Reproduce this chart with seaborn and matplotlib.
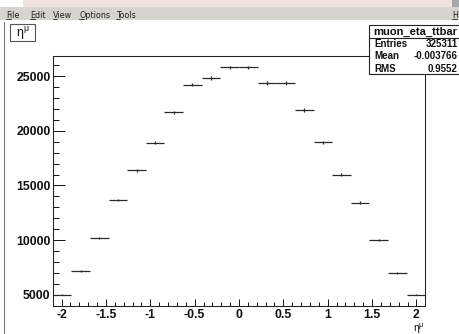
import numpy as np
import pandas as pd
import matplotlib
matplotlib.use("Agg")
import matplotlib.pyplot as plt
import seaborn as sns
from matplotlib.patches import Rectangle
from matplotlib.lines import Line2D

# muon eta histogram (ttbar), 20 bins between -2.1 and 2.1
eta_centers = [-1.995, -1.785, -1.575, -1.365, -1.155, -0.945, -0.735, -0.525, -0.315, -0.105,
               0.105, 0.315, 0.525, 0.735, 0.945, 1.155, 1.365, 1.575, 1.785, 1.995]
counts = [5030, 7210, 10180, 13670, 16380, 18920, 21700, 24200, 24800, 25790,
          25790, 24380, 24350, 21900, 18950, 15980, 13440, 10030, 7020, 5030]
bin_half_width = 0.105
x_ticks = [-2, -1.5, -1, -0.5, 0, 0.5, 1, 1.5, 2]
x_tick_labels = ["-2", "-1.5", "-1", "-0.5", "0", "0.5", "1", "1.5", "2"]
y_ticks = [5000, 10000, 15000, 20000, 25000]

stats_name = "muon_eta_ttbar"
stats_rows = [("Entries", "325311"), ("Mean", "-0.003766"), ("RMS", "0.9552")]
menu_items = ["File", "Edit", "View", "Options", "Tools"]
eta_mu = r"η$^{\mathregular{μ}}$"

df = pd.DataFrame({"eta": eta_centers, "n": counts})

sns.set_theme(style="ticks")
plt.rcParams["font.family"] = ["Liberation Sans", "DejaVu Sans"]
plt.rcParams["mathtext.fontset"] = "dejavusans"

W, H = 459, 334
fig = plt.figure(figsize=(W / 100, H / 100), dpi=100)
fig.patch.set_facecolor("white")


def px(x, y):
    return x / W, 1 - y / H


# window chrome
fig.patches.append(Rectangle(px(23, 7), 429 / W, 7 / H, transform=fig.transFigure,
                             facecolor="#efe3dc", edgecolor="none"))
fig.patches.append(Rectangle(px(452, 7), 7 / W, 7 / H, transform=fig.transFigure,
                             facecolor="#a8a8a8", edgecolor="none"))
fig.patches.append(Rectangle(px(0, 20), 1, 13 / H, transform=fig.transFigure,
                             facecolor="#d6d4d0", edgecolor="none"))
fig.lines.append(Line2D([3.5 / W, 3.5 / W], [px(0, 22)[1], 0], transform=fig.transFigure,
                        color="#7a7a7a", lw=0.8))

menu_x = [6, 30, 53, 79, 116]
for name, mx in zip(menu_items, menu_x):
    fig.text(*px(mx, 17.8), name, fontsize=5.8, color="#202020", ha="left", va="baseline",
             family=["DejaVu Sans"])
    fig.lines.append(Line2D([mx / W, (mx + 4.5) / W], [px(0, 19)[1]] * 2,
                            transform=fig.transFigure, color="#202020", lw=0.6))
fig.text(*px(452, 17.8), "H", fontsize=5.8, color="#202020", ha="left", va="baseline",
         family=["DejaVu Sans"])
fig.lines.append(Line2D([452 / W, 457 / W], [px(0, 19)[1]] * 2,
                        transform=fig.transFigure, color="#202020", lw=0.6))

# main frame
left, right, top, bottom = 52.7, 425.3, 56, 306
ax = fig.add_axes([left / W, 1 - bottom / H, (right - left) / W, (bottom - top) / H])

ax.errorbar(df["eta"], df["n"], xerr=bin_half_width, yerr=np.sqrt(df["n"]),
            fmt="none", ecolor="#2a2a2a", elinewidth=0.9, capsize=0)

ymin, ymax = min(counts), max(counts)
margin = 0.05 * (ymax - ymin)
ax.set_xlim(-2.1, 2.1)
ax.set_ylim(ymin - margin, ymax + margin)

ax.set_xticks(x_ticks)
ax.set_xticklabels(x_tick_labels)
ax.set_yticks(y_ticks)
ax.set_xticks(np.arange(-2.1, 2.11, 0.1), minor=True)
ax.set_yticks(np.arange(4000, 26001, 1000), minor=True)
ax.set_xlabel("")
ax.set_ylabel("")

for s in ax.spines.values():
    s.set_visible(True)
    s.set_linewidth(0.75)
    s.set_color("#222222")

ax.tick_params(axis="y", which="major", direction="in", length=8.3, width=0.7,
               pad=1.6, labelsize=8.8, colors="#111111", left=True, right=False)
ax.tick_params(axis="y", which="minor", direction="in", length=4.3, width=0.7,
               left=True, right=False, color="#111111")
ax.tick_params(axis="x", which="major", direction="in", length=5.4, width=0.7,
               pad=2.2, labelsize=8.8, colors="#111111", bottom=True, top=False)
ax.tick_params(axis="x", which="minor", direction="in", length=2.6, width=0.7,
               bottom=True, top=False, color="#111111")
for lab in ax.get_xticklabels() + ax.get_yticklabels():
    lab.set_fontweight("bold")

# axis title
fig.text(*px(424.5, 331.5), eta_mu, fontsize=7.6, ha="right", va="baseline", color="#111111")

# title box
fig.patches.append(Rectangle(px(10, 41), 25 / W, 17 / H, transform=fig.transFigure,
                             facecolor="white", edgecolor="#555555", lw=0.8))
fig.text(*px(22.5, 37), eta_mu, fontsize=9, ha="center", va="baseline", color="#111111")

# stats box
fig.patches.append(Rectangle(px(368.5, 74), 100 / W, 49 / H, transform=fig.transFigure,
                             facecolor="white", edgecolor="#222222", lw=0.8))
fig.lines.append(Line2D([368.5 / W, 1], [px(0, 38)[1]] * 2, transform=fig.transFigure,
                        color="#222222", lw=0.8))
fig.text(*px(415.3, 34.5), stats_name, fontsize=8, fontweight="bold", ha="center",
         va="baseline", color="#111111")
for i, (k, v) in enumerate(stats_rows):
    yb = 46.8 + 12.6 * i
    fig.text(*px(374, yb), k, fontsize=7, fontweight="bold", ha="left", va="baseline",
             color="#111111")
    fig.text(*px(457.7, yb), v, fontsize=7, fontweight="bold", ha="right", va="baseline",
             color="#111111")

fig.savefig("out.png", dpi=100)
